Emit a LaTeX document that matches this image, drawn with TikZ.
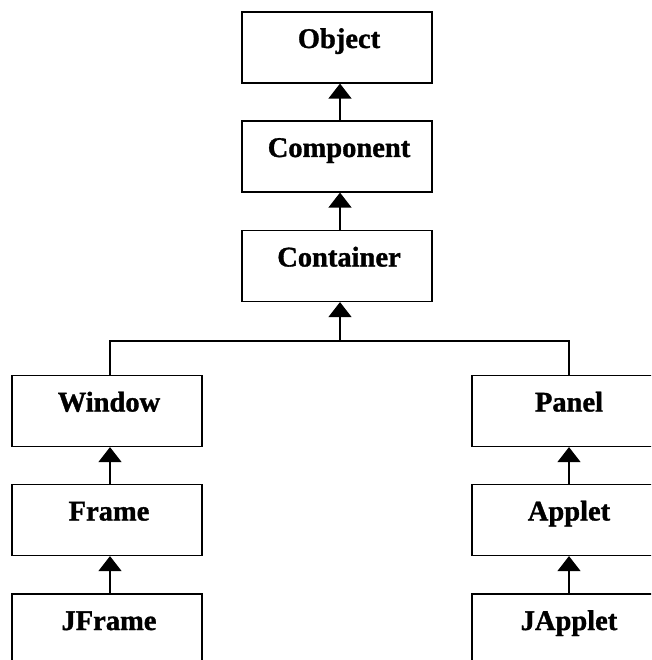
\documentclass[tikz,border=0pt]{standalone}
\usepackage{fontspec}
\setmainfont{Liberation Serif}[BoldFeatures={FakeBold=1.2}]
\usetikzlibrary{arrows.meta}
\begin{document}
\begin{tikzpicture}[x=1pt,y=-1pt,
  cls/.style={draw=black, line width=1.2pt, rectangle, inner sep=0pt,
    minimum width=190pt, text height=36pt, text depth=35pt,
    font=\fontsize{28.5}{30}\selectfont\bfseries,
    execute at begin node={\hspace*{4pt}}},
  inh/.style={line width=1.2pt, -{Triangle[width=23pt,length=15pt]}},
  conn/.style={line width=1.2pt}]
\clip (0,0) rectangle (651,660);
\fill[white] (0,0) rectangle (651,660);
\node[cls] (object)    at (337,47.5)  {Object};
\node[cls] (component) at (337,156.5) {Component};
\node[cls] (container) at (337,266)   {Container};
\node[cls] (window)    at (107,411)   {Window};
\node[cls] (frame)     at (107,520)   {Frame};
\node[cls] (jframe)    at (107,629.5) {JFrame};
\node[cls] (panel)     at (567,411)   {Panel};
\node[cls] (applet)    at (567,520)   {Applet};
\node[cls] (japplet)   at (567,629.5) {JApplet};
\coordinate (junc) at (340,341);
\draw[inh] ([xshift=3pt]component.north) -- ([xshift=3pt]object.south);
\draw[inh] ([xshift=3pt]container.north) -- ([xshift=3pt]component.south);
\draw[inh] (junc) -- ([xshift=3pt]container.south);
\draw[conn] ([xshift=3pt]window.north) |- (junc) -| ([xshift=2pt]panel.north);
\draw[inh] ([xshift=3pt]frame.north) -- ([xshift=3pt]window.south);
\draw[inh] ([xshift=3pt]jframe.north) -- ([xshift=3pt]frame.south);
\draw[inh] ([xshift=2pt]applet.north) -- ([xshift=2pt]panel.south);
\draw[inh] ([xshift=2pt]japplet.north) -- ([xshift=2pt]applet.south);
\end{tikzpicture}
\end{document}
